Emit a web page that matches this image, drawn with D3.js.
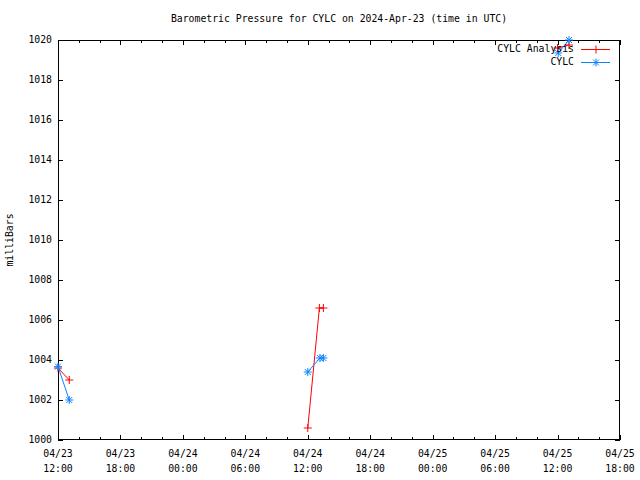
<!DOCTYPE html>
<html><head><meta charset="utf-8">
<script src="https://cdn.jsdelivr.net/npm/d3@7"></script>
<style>body{margin:0;background:#fff}svg{display:block}text{font-family:"DejaVu Sans Mono",monospace;font-size:9.8px;fill:#000}</style>
</head><body>
<svg id="c" width="640" height="480"></svg>
<script>
const title = "Barometric Pressure for CYLC on 2024-Apr-23 (time in UTC)";
const yLabel = "milliBars";
const seriesNames = ["CYLC Analysis", "CYLC"];
const analysisTimes = ["2024-04-23T12:00Z","2024-04-23T13:05Z","2024-04-24T12:00Z","2024-04-24T13:07Z","2024-04-24T13:30Z","2024-04-25T12:00Z","2024-04-25T13:06Z"];
const analysisValues = [1003.6, 1003.0, 1000.6, 1006.6, 1006.6, 1019.6, 1019.75];
const obsTimes = ["2024-04-23T12:00Z","2024-04-23T13:05Z","2024-04-24T12:00Z","2024-04-24T13:10Z","2024-04-24T13:30Z","2024-04-25T12:04Z","2024-04-25T13:06Z"];
const obsValues = [1003.67, 1002.0, 1003.4, 1004.1, 1004.1, 1019.35, 1020.0];
const yTicks = [1000,1002,1004,1006,1008,1010,1012,1014,1016,1018,1020];
const xDomain = ["2024-04-23T12:00Z","2024-04-25T18:00Z"];

const svg = d3.select("#c");
const L=58, R=620, T=40, B=440;
const x = d3.scaleUtc().domain(xDomain.map(d=>new Date(d))).range([L,R]);
const y = d3.scaleLinear().domain([1000,1020]).range([B,T]);

const g = svg.append("g");
g.append("rect").attr("x",L+0.5).attr("y",T+0.5).attr("width",R-L-1).attr("height",B-T-1)
 .attr("fill","none").attr("stroke","#000").attr("shape-rendering","crispEdges");

const end = new Date(x.domain()[1].getTime()+1);
const minor = d3.utcHour.every(2).range(x.domain()[0], end);
const major = minor.filter(d=>d.getUTCHours()%6===0);
const tk = g.append("g").attr("stroke","#000").attr("shape-rendering","crispEdges");
minor.forEach(d=>{
  const px=Math.round(x(d))+0.5; const isMaj = d.getUTCHours()%6===0; const len = isMaj?5:3;
  tk.append("line").attr("x1",px).attr("x2",px).attr("y1",B).attr("y2",B-len);
  tk.append("line").attr("x1",px).attr("x2",px).attr("y1",T).attr("y2",T+len);
});
yTicks.forEach(v=>{
  const py=Math.round(y(v))+0.5;
  tk.append("line").attr("x1",L).attr("x2",L+5).attr("y1",py).attr("y2",py);
  tk.append("line").attr("x1",R-5).attr("x2",R).attr("y1",py).attr("y2",py);
  g.append("text").attr("x",52).attr("y",y(v)).attr("dy","0.35em").attr("text-anchor","end").text(v);
});
const f1=d3.utcFormat("%m/%d"), f2=d3.utcFormat("%H:%M");
major.forEach(d=>{
  g.append("text").attr("x",x(d)).attr("y",457).attr("text-anchor","middle").text(f1(d));
  g.append("text").attr("x",x(d)).attr("y",472).attr("text-anchor","middle").text(f2(d));
});
svg.append("text").attr("x",339).attr("y",22).attr("text-anchor","middle").text(title);
svg.append("text").attr("transform","translate(13,240) rotate(-90)").attr("text-anchor","middle").text(yLabel);

function build(times, vals){return times.map((t,i)=>({t:new Date(t),v:vals[i]}));}
function segments(data){
  const segs=[]; let cur=[];
  data.forEach((d,i)=>{ if(i>0 && d.t-data[i-1].t>3*3600e3){segs.push(cur);cur=[];} cur.push(d);});
  segs.push(cur); return segs;
}
const line = d3.line().x(d=>x(d.t)).y(d=>y(d.v));
function plus(sel,cx,cy,color,r){
  sel.append("path").attr("d",`M${cx-r},${cy}H${cx+r}M${cx},${cy-r}V${cy+r}`).attr("stroke",color).attr("fill","none");
}
function star(sel,cx,cy,color,r){
  const d=r*0.75;
  sel.append("path").attr("d",`M${cx-r},${cy}H${cx+r}M${cx},${cy-r}V${cy+r}M${cx-d},${cy-d}L${cx+d},${cy+d}M${cx-d},${cy+d}L${cx+d},${cy-d}`).attr("stroke",color).attr("fill","none");
}
const series = [
  {name:seriesNames[0], data:build(analysisTimes,analysisValues), color:"#ff0000", mark:plus},
  {name:seriesNames[1], data:build(obsTimes,obsValues), color:"#0a84ff", mark:star}
];
const pg = svg.append("g");
series.forEach(s=>{
  segments(s.data).forEach(seg=>{
    pg.append("path").attr("d",line(seg)).attr("fill","none").attr("stroke",s.color).attr("stroke-width",1);
  });
  s.data.forEach(d=>s.mark(pg,x(d.t),y(d.v),s.color,4));
});
series.forEach((s,i)=>{
  const ly = 49 + i*13;
  svg.append("text").attr("x",574).attr("y",ly).attr("dy","0.35em").attr("text-anchor","end").text(s.name);
  svg.append("line").attr("x1",581).attr("x2",610).attr("y1",ly+0.5).attr("y2",ly+0.5).attr("stroke",s.color);
  s.mark(svg,596,ly+0.5,s.color,4);
});
</script>
</body></html>
